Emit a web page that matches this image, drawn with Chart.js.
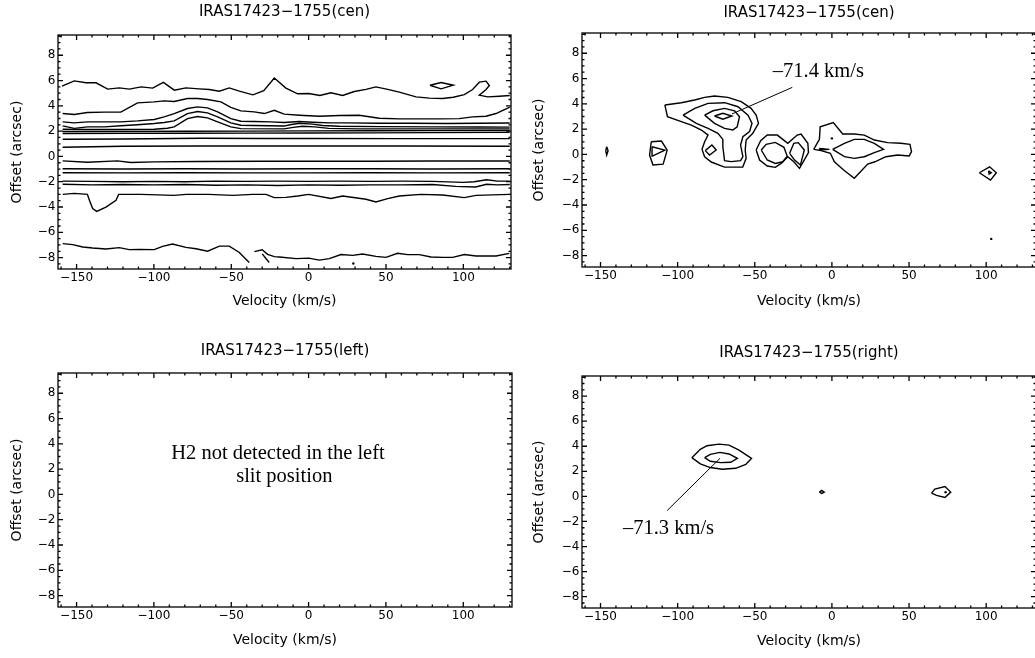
<!DOCTYPE html>
<html>
<head>
<meta charset="utf-8">
<script src="https://cdn.jsdelivr.net/npm/chart.js@4.4.0/dist/chart.umd.min.js"></script>
<style>
  html, body { margin: 0; padding: 0; background: #fff; }
  #wrap { position: relative; width: 1035px; height: 658px; overflow: hidden; }
  canvas { position: absolute; }
</style>
</head>
<body>
<div id="wrap">
  <canvas id="cenLeft" width="520" height="329" style="left:0;top:0"></canvas>
  <canvas id="cenRight" width="520" height="329" style="left:520px;top:0"></canvas>
  <canvas id="slitLeft" width="520" height="329" style="left:0;top:329px"></canvas>
  <canvas id="slitRight" width="520" height="329" style="left:520px;top:329px"></canvas>
</div>
<script>
// Axis ticks
const velTicks = [-150, -100, -50, 0, 50, 100];
const offTicks = [-8, -6, -4, -2, 0, 2, 4, 6, 8];

const titles = ['IRAS17423\u22121755(cen)', 'IRAS17423\u22121755(cen)', 'IRAS17423\u22121755(left)', 'IRAS17423\u22121755(right)'];

// ---- cen slit, all contour levels: [velocity, offset] ----
const cenA = [[-159.4,5.55],[-151.5,5.97],[-143.9,5.82],[-137.4,5.82],[-129.9,5.32],[-122.4,5.42],[-115.9,5.32],[-108.3,5.5],[-100.8,5.4],[-93.9,5.85],[-86.8,5.24],[-79.3,5.42],[-70.7,5.34],[-64.2,5.29],[-57.7,5.16],[-51.3,5.42],[-44.8,5.16],[-36,4.87],[-29,5.2],[-22.2,6.2],[-14.7,5.4],[-7.1,4.95],[0,4.97],[7.3,4.82],[14.4,5.03],[22,4.82],[29.5,5.13],[37.1,5.3],[43.5,5.5],[51.1,5.3],[58.6,5.08],[69.4,4.71],[78,4.61],[86.6,4.58],[93.5,4.68],[100.6,4.89],[106,5.29],[110.3,5.87],[114.7,5.95],[116.8,5.61],[114.7,5.29],[110.3,4.84],[115.7,4.71],[123.3,4.76],[130,4.82]];
const cenIsle = [[78.4,5.63],[85.6,5.84],[93.5,5.63],[85.6,5.34],[78.4,5.63]];
const cenB = [[-159,3.39],[-151.5,3.31],[-143,3.47],[-132,3.5],[-121.4,3.5],[-110.6,4.23],[-99.8,4.31],[-93.4,4.39],[-86.9,4.34],[-78.3,4.58],[-71.8,4.58],[-65.4,4.5],[-56.7,4.31],[-50.3,3.87],[-43.8,3.6],[-35.2,3.52],[-28.6,3.39],[-22.2,3.65],[-15.8,3.34],[-6,3.26],[7,3.18],[19.8,3.23],[32.7,3.26],[45.6,3.02],[58.6,2.97],[71.5,2.97],[84.4,2.97],[97.3,2.99],[106,3.13],[114.6,3.18],[121.1,3.39],[130,3.9]];
const cenC = [[-159,2.73],[-151.5,2.65],[-143,2.73],[-132,2.73],[-121.4,2.73],[-110.6,2.81],[-99.8,2.92],[-93.4,3.13],[-86.9,3.39],[-78.3,3.79],[-71.8,3.92],[-65.4,3.84],[-58.8,3.52],[-50.3,2.99],[-43.8,2.78],[-35.2,2.76],[-24.5,2.73],[-15.8,2.68],[-6,2.76],[2.6,2.7],[13.4,2.65],[24,2.65],[45.6,2.62],[67,2.62],[88.8,2.6],[110,2.62],[130,2.64]];
const cenD = [[-159,2.42],[-151.5,2.22],[-143,2.34],[-132,2.34],[-121.4,2.42],[-110.6,2.5],[-99.8,2.6],[-93.4,2.68],[-86.9,2.81],[-78.3,3.39],[-71.8,3.55],[-65.4,3.44],[-58.8,3.13],[-50.3,2.65],[-43.8,2.47],[-35.2,2.44],[-15.8,2.4],[-12,2.5],[-6,2.62],[2.6,2.55],[9,2.44],[19.8,2.39],[45.6,2.36],[80,2.34],[110,2.33],[130,2.32]];
const cenE = [[-159,2.15],[-143,2.13],[-121,2.13],[-99.8,2.15],[-91.3,2.23],[-86.9,2.34],[-78.3,2.99],[-71.8,3.15],[-65.4,3.05],[-58.8,2.73],[-50.3,2.34],[-43.8,2.2],[-15.8,2.18],[-10,2.3],[-4,2.38],[4,2.34],[13,2.22],[32,2.18],[65,2.18],[110,2.18],[130,2.18]];
const cenF = [[-159,1.97],[-120,1.97],[-80,1.99],[-40,2.0],[0,2.02],[40,2.03],[80,2.04],[130,2.05]];
const cenG = [[-159,1.81],[-120,1.82],[-80,1.83],[-40,1.84],[0,1.85],[40,1.86],[80,1.88],[130,1.9]];
const cenH = [[-159,1.36],[-120,1.38],[-70,1.44],[-30,1.42],[0,1.42],[60,1.41],[130,1.41]];
const cenI = [[-159,0.73],[-120,0.8],[-70,0.83],[0,0.83],[60,0.83],[130,0.8]];
const cenJ = [[-159,-0.35],[-143,-0.46],[-123.6,-0.35],[-115,-0.48],[-99.8,-0.43],[-71.8,-0.4],[-30,-0.38],[0,-0.38],[40,-0.38],[80,-0.36],[130,-0.36]];
const cenK = [[-159,-0.97],[-120,-0.99],[-80,-0.97],[-40,-0.99],[0,-0.97],[40,-0.97],[80,-0.99],[130,-0.97]];
const cenL = [[-159,-1.29],[-120,-1.3],[-80,-1.29],[-40,-1.3],[0,-1.3],[40,-1.29],[80,-1.3],[130,-1.29]];
const cenM = [[-159,-1.95],[-140,-1.97],[-120,-2.0],[-100,-1.97],[-80,-2.0],[-60,-1.95],[-40,-1.97],[-20,-1.95],[0,-1.97],[20,-1.95],[40,-1.97],[60,-1.95],[80,-1.97],[100,-2.05],[107,-2.0],[115,-1.84],[122,-1.95],[130,-1.95]];
const cenN = [[-159,-2.2],[-140,-2.25],[-120,-2.22],[-100,-2.25],[-80,-2.22],[-60,-2.28],[-40,-2.25],[-20,-2.3],[0,-2.25],[20,-2.28],[40,-2.25],[60,-2.25],[80,-2.22],[95,-2.37],[108,-2.42],[115,-2.2],[122,-2.25],[130,-2.22]];
const cenO = [[-159,-3.0],[-151.5,-2.92],[-143,-3.0],[-141.7,-3.47],[-139.6,-4.12],[-137,-4.34],[-131,-4.0],[-124.5,-3.47],[-122.8,-3.0],[-108.4,-3.0],[-86.9,-3.08],[-79.3,-3.0],[-64.7,-3.0],[-49.1,-3.08],[-36.2,-3.0],[-27.6,-3.0],[-22.2,-3.26],[-14.7,-3.24],[-7.1,-3.13],[0,-3.0],[14.4,-3.32],[22,-3.13],[37.1,-3.39],[43.5,-3.6],[51.1,-3.34],[58.6,-3.13],[72.6,-3.0],[86.6,-3.05],[100.6,-3.26],[108.2,-3.08],[130,-3.0]];
const cenP1 = [[-159,-6.89],[-152.5,-6.97],[-146,-7.16],[-139.6,-7.24],[-131,-7.32],[-122.4,-7.21],[-116,-7.37],[-109.5,-7.35],[-99.8,-7.37],[-94.4,-7.11],[-88,-6.93],[-79.3,-7.19],[-72.8,-7.3],[-65.3,-7.49],[-57.7,-7.09],[-51.3,-7.09],[-44.8,-7.59],[-38.4,-8.39]];
const cenP2 = [[-35.1,-7.53],[-30,-7.38],[-26.5,-7.74],[-22.2,-7.92],[-18.9,-7.95],[-8.1,-8.08],[0,-8.04],[6.9,-8.2],[13.4,-8.08],[20.9,-7.76],[28.4,-7.82],[34.9,-7.71],[43.5,-7.9],[50,-7.98],[57.5,-7.66],[64,-7.76],[71.5,-7.76],[79.1,-7.95],[86.6,-7.98],[93.1,-7.98],[100.6,-7.76],[108.2,-7.87],[114.6,-7.87],[121.1,-7.87],[129.7,-7.66]];
const cenP3 = [[-30,-7.7],[-25.5,-8.39]];
const cenDots = [[28.9,-8.47]];

// ---- cen slit, H2 line: closed contours ----
const h2Outer = [[-108.3,3.91],[-106.6,2.98],[-97.6,2.59],[-91.1,2.32],[-84.6,1.93],[-80.3,1.53],[-82.5,1.01],[-84.2,0.4],[-82.5,-0.18],[-78.2,-0.6],[-69.6,-1.0],[-57.8,-1.0],[-55.6,-0.31],[-56.2,0.35],[-55.6,1.14],[-51.3,1.67],[-47.6,2.46],[-49.1,3.12],[-52.4,3.64],[-58.8,4.17],[-67.5,4.51],[-76.1,4.62],[-82.5,4.51],[-89,4.3],[-97.6,4.09]];
const h2Mid = [[-96.5,3.11],[-88.9,3.64],[-80.3,4.04],[-69.5,4.09],[-60.9,3.77],[-54.4,3.11],[-51.8,2.46],[-53.4,1.8],[-57.7,1.4],[-59.2,0.74],[-57.7,-0.18],[-59.2,-0.49],[-65.3,-0.57],[-69.6,-0.49],[-70.7,0.61],[-70.7,1.19],[-73.9,1.67],[-80.3,2.06],[-87.9,2.46]];
const h2Ring = [[-82.5,3.11],[-77.1,3.45],[-69.6,3.64],[-63.1,3.45],[-59.9,2.98],[-61.4,2.19],[-64.2,1.93],[-69.6,2.06],[-76.1,2.46]];
const h2Peak = [[-76.1,3.04],[-70.7,3.25],[-64.9,3.04],[-70.7,2.78]];
const h2Knot = [[-82.1,0.3],[-77.8,0.74],[-75,0.35],[-79.3,-0.05]];
const h2West = [[-117.1,1.0],[-110.5,1.06],[-106.8,0.34],[-109.4,-0.77],[-116,-0.84],[-118.2,-0.05]];
const h2WestIn = [[-116.6,0.61],[-108.3,0.34],[-116.4,-0.13]];
const h2Far = [[-146,0.61],[-145.1,0.29],[-146,-0.05],[-146.6,0.29]];
const h2EightOut = [[-49.1,0.35],[-46.2,1.09],[-41.9,1.53],[-35.4,1.53],[-28.6,0.88],[-22.5,1.53],[-20,1.61],[-15.6,0.88],[-15.2,0.14],[-21,-1.1],[-24.7,-0.58],[-28.6,-0.18],[-32.9,-0.71],[-36.7,-1.02],[-41.9,-0.92],[-46.9,-0.44]];
const h2EightL = [[-45.8,0.35],[-42.6,0.8],[-36.7,0.95],[-31.1,0.56],[-29,-0.13],[-31.8,-0.58],[-36.7,-0.71],[-41.9,-0.44]];
const h2EightR = [[-27.4,0.09],[-24.7,0.88],[-21.8,0.93],[-17.9,0.35],[-20.4,-0.84],[-24.2,-0.45]];
const h2East = [[-11.8,0.4],[-8.1,1.19],[-7.6,2.19],[0.9,2.51],[7,1.61],[14.5,1.61],[21,1.53],[27.5,1.14],[36.1,0.93],[44.7,0.88],[50.6,0.8],[51.6,0.22],[50.1,-0.12],[42.6,-0.05],[35,-0.18],[27.9,-0.58],[23.2,-0.76],[14.5,-1.89],[7.6,-1.23],[1.6,-0.58],[-1,0.09],[-7,0.3]];
const h2EastIn = [[0.5,0.4],[8.1,0.88],[14.5,1.19],[21,1.19],[27.5,0.88],[33.5,0.4],[27.5,0.14],[21,-0.18],[14.5,-0.31],[8.1,-0.18]];
const h2Sliver = [[-8.1,0.47],[-1.6,0.4],[-8.1,0.35]];
const h2SE = [[95.6,-1.45],[102.2,-0.98],[106.6,-1.45],[102.8,-2.03]];
const h2SEIn = [[101.5,-1.29],[103.3,-1.45],[101.9,-1.56]];
const h2Dots = [[0,1.27],[103.3,-6.68]];
const h2Pointer = [[-64.8,3.2],[-25.7,5.3]];

// ---- right slit ----
const rOuter = [[-90.8,3.09],[-85.3,3.75],[-81,4.04],[-73.3,4.17],[-66.7,4.09],[-60.2,3.69],[-52.1,3.03],[-55.8,2.56],[-62.4,2.24],[-71.1,2.16],[-78.8,2.3],[-85.3,2.59]];
const rInner = [[-82.5,3.09],[-78.8,3.35],[-72.6,3.51],[-66.7,3.38],[-61.3,3.03],[-65.6,2.72],[-72.2,2.69],[-78.8,2.8]];
const rKnot = [[-8.1,0.34],[-6.6,0.48],[-5,0.34],[-6.6,0.24]];
const rSpot = [[64.6,0.26],[66.7,0.58],[73.3,0.79],[77,0.34],[73.3,-0.08],[67.8,0.08]];
const rDots = [[73.7,0.34]];
const rPointer = [[-106.8,-1.13],[-72.6,3.03]];

const fmt = v => (v < 0 ? '\u2212' + (-v) : String(v));
const pts = c => c.map(([x, y]) => ({ x, y }));
const closed = c => c.concat([c[0]]);

const line = (c, w) => ({ data: pts(c), showLine: true, borderColor: '#000', borderWidth: w || 1.4, pointRadius: 0 });
const dots = c => ({ data: pts(c), showLine: false, pointRadius: 1.2, backgroundColor: '#000', borderWidth: 0 });

// Frame, IDL style ticks on all four sides, panel title and notes
const panelFrame = {
  id: 'panelFrame',
  afterDraw(chart, args, opts) {
    const { ctx, chartArea: a, scales: { x, y } } = chart;
    ctx.save();
    ctx.strokeStyle = '#000';
    ctx.lineWidth = 1.3;
    ctx.strokeRect(a.left, a.top, a.right - a.left, a.bottom - a.top);
    ctx.beginPath();
    for (let i = Math.ceil(x.min / 10); i * 10 <= x.max; i++) {
      const px = x.getPixelForValue(i * 10);
      const len = i % 5 === 0 ? 5 : 2.5;
      ctx.moveTo(px, a.bottom); ctx.lineTo(px, a.bottom - len);
      ctx.moveTo(px, a.top); ctx.lineTo(px, a.top + len);
    }
    for (let i = Math.ceil(y.min * 2); i / 2 <= y.max; i++) {
      const py = y.getPixelForValue(i / 2);
      const len = i % 4 === 0 ? 5 : 2.5;
      ctx.moveTo(a.left, py); ctx.lineTo(a.left + len, py);
      ctx.moveTo(a.right, py); ctx.lineTo(a.right - len, py);
    }
    ctx.stroke();

    ctx.fillStyle = '#000';
    ctx.textAlign = 'center';
    ctx.textBaseline = 'middle';
    ctx.font = '15px "DejaVu Sans"';
    ctx.fillText(opts.title, (a.left + a.right) / 2, opts.titleY);

    ctx.font = '20.5px "Liberation Serif"';
    (opts.notes || []).forEach(n => {
      ctx.fillText(n.text, x.getPixelForValue(n.at[0]), y.getPixelForValue(n.at[1]));
    });
    ctx.restore();
  }
};

function makePanel(id, spec) {
  const canvas = document.getElementById(id);
  const W = canvas.width, H = canvas.height;
  const tickFont = { family: 'DejaVu Sans', size: 12 };
  const labFont = { family: 'DejaVu Sans', size: 14, lineHeight: 1.2 };
  return new Chart(canvas, {
    type: 'scatter',
    data: { datasets: spec.datasets },
    options: {
      responsive: false,
      animation: false,
      devicePixelRatio: 1,
      events: [],
      layout: { padding: { top: spec.area.top, right: W - spec.area.right, bottom: 0, left: 0 } },
      plugins: {
        legend: { display: false },
        tooltip: { enabled: false },
        panelFrame: { title: spec.title, titleY: spec.titleY, notes: spec.notes }
      },
      scales: {
        x: {
          type: 'linear', min: -162, max: spec.xMax,
          grid: { display: false, drawTicks: false },
          border: { display: false },
          afterBuildTicks: s => { s.ticks = velTicks.map(value => ({ value })); },
          afterFit: s => { s.height = H - spec.area.bottom; },
          ticks: { callback: fmt, padding: 2, font: tickFont, color: '#000', autoSkip: false, maxRotation: 0 },
          title: { display: true, text: 'Velocity (km/s)', font: labFont, color: '#000', padding: { top: 0, bottom: H - spec.xTitleY - 8.4 } }
        },
        y: {
          type: 'linear', min: -8.9, max: 9.6,
          grid: { display: false, drawTicks: false },
          border: { display: false },
          afterBuildTicks: s => { s.ticks = offTicks.map(value => ({ value })); },
          afterFit: s => { s.width = spec.area.left; },
          ticks: { callback: fmt, padding: 2.5, font: tickFont, color: '#000', autoSkip: false },
          title: { display: true, text: 'Offset (arcsec)', font: labFont, color: '#000', padding: { top: spec.yTitleX - 8.4, bottom: 0 } }
        }
      }
    },
    plugins: [panelFrame]
  });
}

makePanel('cenLeft', {
  title: titles[0], titleY: 12.5, xMax: 130.8, xTitleY: 301, yTitleX: 17,
  area: { left: 58, top: 35, right: 511, bottom: 269 },
  datasets: [cenA, cenB, cenC, cenD, cenE, cenF, cenG, cenH, cenI, cenJ, cenK, cenL, cenM, cenN, cenO, cenP1, cenP2, cenP3]
    .map(c => line(c)).concat([line(cenIsle), dots(cenDots)])
});

makePanel('cenRight', {
  title: titles[1], titleY: 13.3, xMax: 132.3, xTitleY: 301, yTitleX: 19,
  area: { left: 62, top: 33, right: 517, bottom: 267 },
  datasets: [h2Outer, h2Mid, h2Ring, h2Peak, h2Knot, h2West, h2WestIn, h2Far, h2EightOut, h2EightL, h2EightR, h2East, h2EastIn, h2Sliver, h2SE, h2SEIn]
    .map(c => line(closed(c))).concat([dots(h2Dots), line(h2Pointer, 1)]),
  notes: [{ text: '\u201371.4 km/s', at: [-8.8, 6.54] }]
});

makePanel('slitLeft', {
  title: titles[2], titleY: 21.8, xMax: 131.5, xTitleY: 311.5, yTitleX: 17,
  area: { left: 58, top: 44, right: 512, bottom: 278 },
  datasets: [],
  notes: [
    { text: 'H2 not detected in the left', at: [-19.8, 3.23] },
    { text: 'slit position', at: [-15.7, 1.41] }
  ]
});

makePanel('slitRight', {
  title: titles[3], titleY: 24.3, xMax: 132.3, xTitleY: 312.7, yTitleX: 19,
  area: { left: 62, top: 47, right: 517, bottom: 279 },
  datasets: [rOuter, rInner, rKnot, rSpot].map(c => line(closed(c))).concat([dots(rDots), line(rPointer, 1)]),
  notes: [{ text: '\u201371.3 km/s', at: [-105.9, -2.56] }]
});
</script>
</body>
</html>
